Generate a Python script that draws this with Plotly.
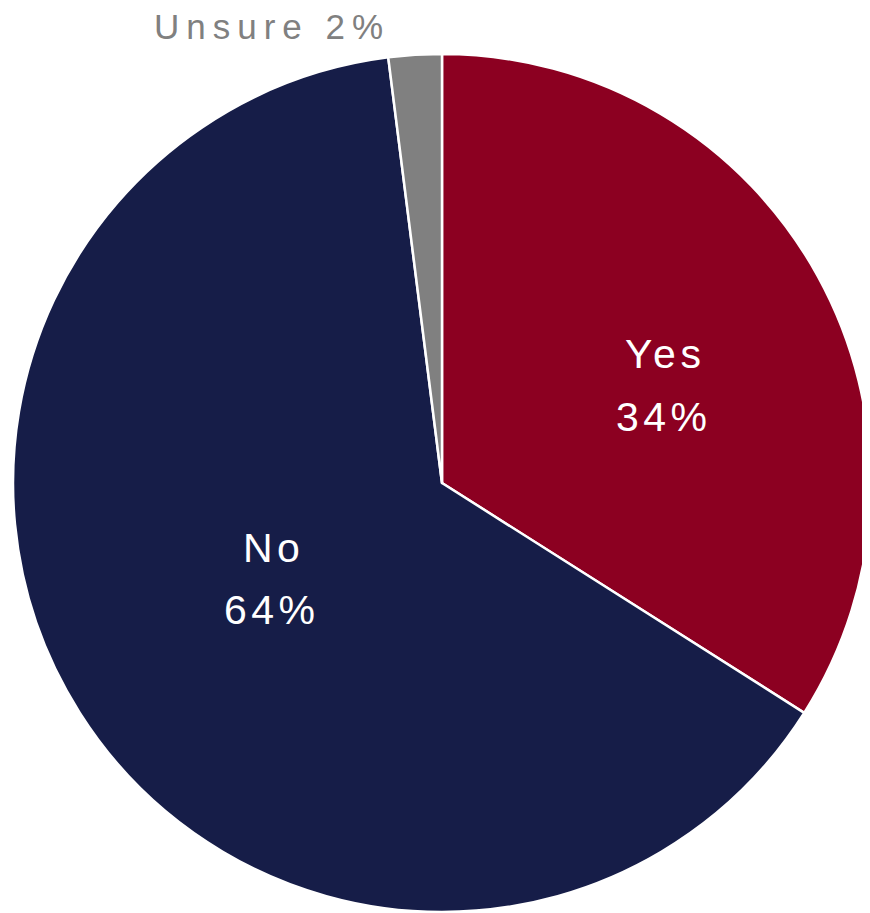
import plotly.graph_objects as go

labels = ["Yes", "No", "Unsure"]
values = [34, 64, 2]
colors = ["#8C0021", "#161D48", "#808080"]

W, H = 870, 913
# page body has an 8px offset; compensate so the pie lands at centre (442, 483), r≈429
cx, cy, r = 434, 475, 429
fig = go.Figure(go.Pie(
    labels=labels, values=values, sort=False, direction="clockwise", rotation=0,
    marker=dict(colors=colors, line=dict(color="white", width=2.5)),
    textinfo="none", hoverinfo="label+percent", showlegend=False,
    domain=dict(x=[(cx - r) / W, (cx + r) / W], y=[(H - cy - r) / H, (H - cy + r) / H]),
))

font_in = dict(family="Liberation Sans, Arial, sans-serif", size=41, color="white")
font_out = dict(family="Liberation Sans, Arial, sans-serif", size=35, color="#808080")

def px(x, y):
    return x / W, 1 - y / H

def spaced(t, s):
    return f'<span style="letter-spacing:{s}px">{t}</span>'

anns = []
inside_pos = {0: ((657, 346), (656, 409)), 1: ((265, 540), (264, 602))}
for i, ((x1, y1), (x2, y2)) in inside_pos.items():
    for txt, (x, y) in ((labels[i], (x1, y1)), (f"{values[i]}%", (x2, y2))):
        xp, yp = px(x, y)
        anns.append(dict(text=spaced(txt, 4.5), x=xp, y=yp, xref="paper", yref="paper",
                         xanchor="center", yanchor="middle", showarrow=False, font=font_in))
xp, yp = px(264, 18)
anns.append(dict(text=spaced(f"{labels[2]} {values[2]}%", 7), x=xp, y=yp, xref="paper", yref="paper",
                 xanchor="center", yanchor="middle", showarrow=False, font=font_out, borderpad=0))

fig.update_layout(width=W, height=H, margin=dict(l=0, r=0, t=0, b=0),
                  paper_bgcolor="white", plot_bgcolor="white", annotations=anns)
fig.write_html("out.html")
